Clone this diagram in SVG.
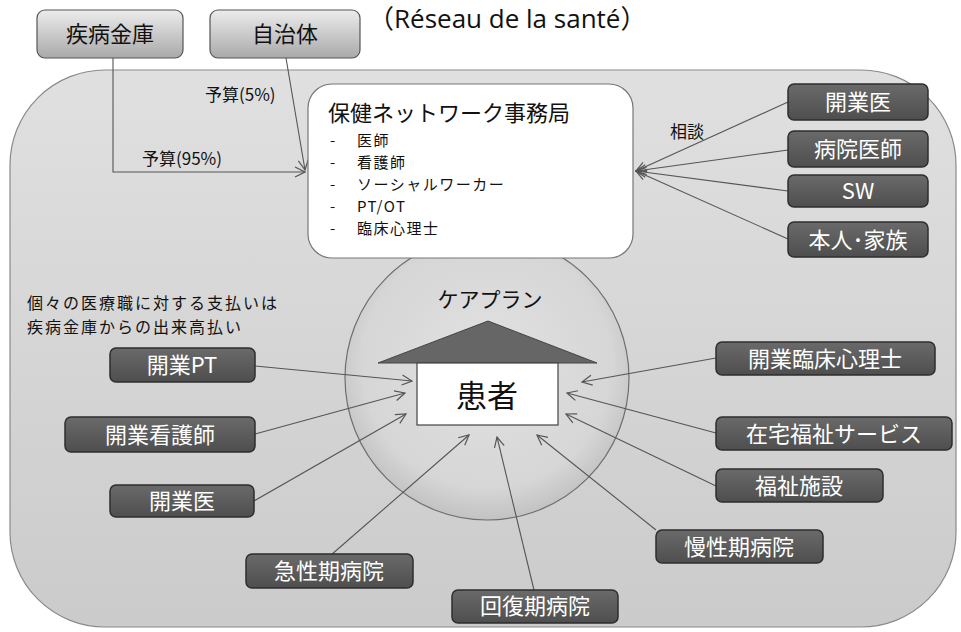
<svg xmlns="http://www.w3.org/2000/svg" width="961" height="632" viewBox="0 0 961 632">
<defs>
<linearGradient id="bgGrad" x1="0" y1="0" x2="0" y2="1">
<stop offset="0" stop-color="#e0e0e0"/>
<stop offset="1" stop-color="#cbcbcb"/>
</linearGradient>
<radialGradient id="circGrad" cx="0.5" cy="0.45" r="0.55">
<stop offset="0" stop-color="#e2e2e2"/>
<stop offset="0.8" stop-color="#d6d6d6"/>
<stop offset="1" stop-color="#c2c2c2"/>
</radialGradient>
<linearGradient id="topGrad" x1="0" y1="0" x2="0" y2="1">
<stop offset="0" stop-color="#ececec"/>
<stop offset="1" stop-color="#a9a9a9"/>
</linearGradient>
<linearGradient id="darkGrad" x1="0" y1="0" x2="0" y2="1">
<stop offset="0" stop-color="#6a6a6a"/>
<stop offset="1" stop-color="#4e4e4e"/>
</linearGradient>
<marker id="arr" viewBox="0 0 12 12" refX="11" refY="6" markerWidth="12" markerHeight="12" markerUnits="userSpaceOnUse" orient="auto">
<path d="M1,1 L11,6 L1,11" fill="none" stroke="#555" stroke-width="1.2"/>
</marker>
<style>
.jp{font-family:"Noto Sans CJK JP","Noto Sans",sans-serif;}
.top rect{fill:url(#topGrad);stroke:#555;stroke-width:1.2;}
.top text{font-size:22px;fill:#111;text-anchor:middle;}
.dark rect{fill:url(#darkGrad);stroke:#2e2e2e;stroke-width:1.5;}
.dark text{font-size:22px;fill:#fff;text-anchor:middle;}
.conn line,.conn polyline{stroke:#555;stroke-width:1.1;fill:none;marker-end:url(#arr);}
.lbl{font-size:17px;fill:#111;}
.item{font-size:15px;fill:#111;letter-spacing:1.5px;}
.note{font-size:16px;fill:#111;letter-spacing:2px;}
</style>
</defs>

<g id="background">
<rect x="10" y="70" width="946" height="557" rx="95" ry="95" fill="url(#bgGrad)" stroke="#8a8a8a" stroke-width="1.2"/>
<circle cx="487" cy="378" r="142" fill="url(#circGrad)" stroke="#6e6e6e" stroke-width="1.2"/>
</g>

<text x="368" y="28" font-family="'Open Sans','Noto Sans CJK JP',sans-serif" font-size="26" fill="#111">（Réseau de la santé）</text>

<g id="connectors" class="conn">
<polyline points="113,58 113,172 305,172"/>
<line x1="286" y1="58" x2="305" y2="170"/>
<line x1="788" y1="102" x2="636" y2="171"/>
<line x1="788" y1="150" x2="636" y2="171"/>
<line x1="788" y1="191" x2="636" y2="171"/>
<line x1="788" y1="239" x2="636" y2="171"/>
<line x1="255" y1="366" x2="412" y2="381"/>
<line x1="255" y1="434" x2="405" y2="393"/>
<line x1="254" y1="501" x2="406" y2="414"/>
<line x1="331" y1="555" x2="469" y2="435"/>
<line x1="534" y1="590" x2="497" y2="437"/>
<line x1="656" y1="530" x2="537" y2="435"/>
<line x1="716" y1="486" x2="566" y2="414"/>
<line x1="716" y1="433" x2="567" y2="393"/>
<line x1="716" y1="358" x2="582" y2="382"/>
</g>

<g id="labels" class="jp">
<text class="lbl" x="205" y="101">予算(5%)</text>
<text class="lbl" x="142" y="165">予算(95%)</text>
<text class="lbl" x="670" y="138">相談</text>
<text class="note" x="27" y="309">個々の医療職に対する支払いは</text>
<text class="note" x="27" y="333">疾病金庫からの出来高払い</text>
<text x="490" y="307" font-size="21" fill="#111" text-anchor="middle">ケアプラン</text>
</g>

<g id="n-shippei" class="top jp">
<rect x="37" y="10" width="146" height="48" rx="8"/>
<text x="110" y="42">疾病金庫</text>
</g>
<g id="n-jichitai" class="top jp">
<rect x="210" y="10" width="150" height="48" rx="8"/>
<text x="285" y="42">自治体</text>
</g>

<g id="n-office" class="jp">
<rect x="308" y="84" width="325" height="174" rx="24" fill="#fff" stroke="#777" stroke-width="1.2"/>
<text x="328" y="121" font-size="22" fill="#111">保健ネットワーク事務局</text>
<text class="item" x="330" y="146">-</text><text class="item" x="357" y="146">医師</text>
<text class="item" x="330" y="168">-</text><text class="item" x="357" y="168">看護師</text>
<text class="item" x="330" y="190">-</text><text class="item" x="357" y="190">ソーシャルワーカー</text>
<text class="item" x="330" y="212">-</text><text class="item" x="357" y="212" letter-spacing="0">PT/OT</text>
<text class="item" x="330" y="234">-</text><text class="item" x="357" y="234">臨床心理士</text>
</g>

<g id="n-patient" class="jp">
<polygon points="488,321 378,363 597,363" fill="#666" stroke="#444" stroke-width="1"/>
<rect x="417" y="363" width="141" height="62" fill="#fff" stroke="#444" stroke-width="1.2"/>
<text x="487" y="407" font-size="31" fill="#111" text-anchor="middle">患者</text>
</g>

<g id="n-r-kaigyoui" class="dark jp"><rect x="788" y="84" width="140" height="36" rx="6"/><text x="858" y="110">開業医</text></g>
<g id="n-r-byouin" class="dark jp"><rect x="788" y="131" width="140" height="36" rx="6"/><text x="858" y="157">病院医師</text></g>
<g id="n-r-sw" class="dark jp"><rect x="788" y="175" width="140" height="32" rx="6"/><text x="858" y="199">SW</text></g>
<g id="n-r-family" class="dark jp"><rect x="788" y="222" width="140" height="35" rx="6"/><text x="858" y="248">本人･家族</text></g>

<g id="n-pt" class="dark jp"><rect x="110" y="348" width="145" height="34" rx="6"/><text x="182" y="373">開業PT</text></g>
<g id="n-nurse" class="dark jp"><rect x="65" y="417" width="190" height="35" rx="6"/><text x="160" y="443">開業看護師</text></g>
<g id="n-l-kaigyoui" class="dark jp"><rect x="110" y="485" width="144" height="32" rx="6"/><text x="182" y="509">開業医</text></g>
<g id="n-acute" class="dark jp"><rect x="246" y="554" width="167" height="34" rx="6"/><text x="329" y="579">急性期病院</text></g>
<g id="n-recovery" class="dark jp"><rect x="452" y="590" width="166" height="33" rx="6"/><text x="535" y="614">回復期病院</text></g>
<g id="n-chronic" class="dark jp"><rect x="656" y="530" width="167" height="33" rx="6"/><text x="739" y="555">慢性期病院</text></g>
<g id="n-welfare" class="dark jp"><rect x="716" y="469" width="167" height="33" rx="6"/><text x="799" y="494">福祉施設</text></g>
<g id="n-homecare" class="dark jp"><rect x="716" y="417" width="236" height="33" rx="6"/><text x="834" y="442">在宅福祉サービス</text></g>
<g id="n-psych" class="dark jp"><rect x="716" y="342" width="219" height="33" rx="6"/><text x="825" y="367">開業臨床心理士</text></g>
</svg>
